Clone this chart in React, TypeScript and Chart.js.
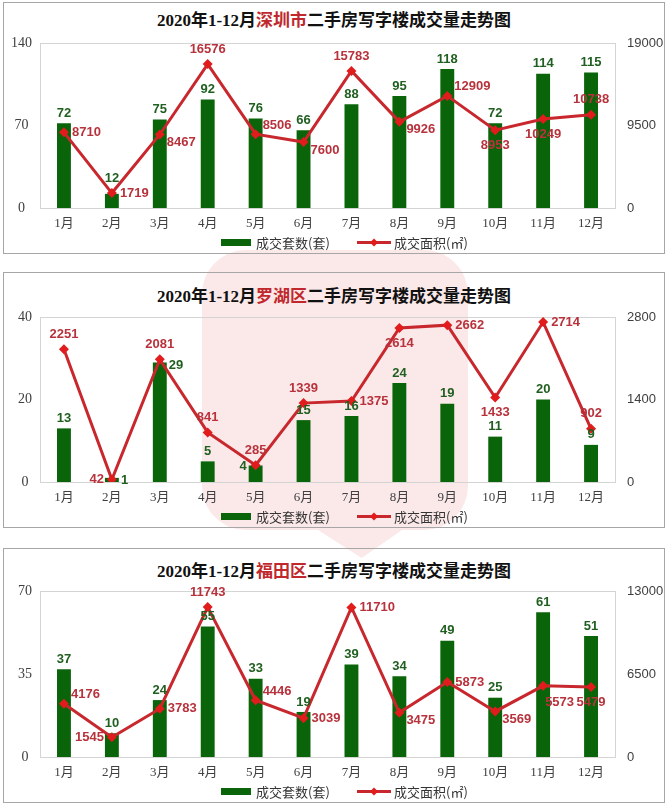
import React, { useEffect, useRef } from 'react';
import { Chart, registerables } from 'chart.js';

Chart.register(...registerables);

// ---------- data ----------
const MONTHS = ['1月', '2月', '3月', '4月', '5月', '6月', '7月', '8月', '9月', '10月', '11月', '12月'];
const SERIES_UNITS = '成交套数(套)';
const SERIES_AREA = '成交面积(㎡)';

const SZ_UNITS = [72, 12, 75, 92, 76, 66, 88, 95, 118, 72, 114, 115];
const SZ_AREA = [8710, 1719, 8467, 16576, 8506, 7600, 15783, 9926, 12909, 8953, 10249, 10738];
const SZ_UNIT_TICKS = [0, 70, 140];
const SZ_AREA_TICKS = [0, 9500, 19000];

const LH_UNITS = [13, 1, 29, 5, 4, 15, 16, 24, 19, 11, 20, 9];
const LH_AREA = [2251, 42, 2081, 841, 285, 1339, 1375, 2614, 2662, 1433, 2714, 902];
const LH_UNIT_TICKS = [0, 20, 40];
const LH_AREA_TICKS = [0, 1400, 2800];

const FT_UNITS = [37, 10, 24, 55, 33, 19, 39, 34, 49, 25, 61, 51];
const FT_AREA = [4176, 1545, 3783, 11743, 4446, 3039, 11710, 3475, 5873, 3569, 5573, 5479];
const FT_UNIT_TICKS = [0, 35, 70];
const FT_AREA_TICKS = [0, 6500, 13000];

// ---------- label placement (style) ----------
const SZ_UNIT_POS = ['t', 'tt', 't', 't', 't', 't', 't', 't', 't', 't', 't', 't'];
const SZ_AREA_POS = ['r', 'r', 'rd', 't', 'ru', 'rd', 't', 'rd', 'ru', 'b', 'b', 't'];
const LH_UNIT_POS = ['t', 'r', 'r', 't', 'l', 't', 't', 't', 't', 't', 't', 't'];
const LH_AREA_POS = ['t', 'l', 't', 't', 't', 't', 'r', 'b', 'r', 'b', 'r', 't'];
const FT_UNIT_POS = ['t', 't', 't', 't', 't', 't', 't', 't', 't', 't', 't', 't'];
const FT_AREA_POS = ['ru', 'l', 'r', 't', 'ru', 'r', 'r', 'rd', 'r', 'rd', 'rb', 'b'];

// ---------- styles ----------
const BAR_COLOR = '#0a640a';
const BAR_LABEL = '#1f5f1f';
const LINE_COLOR = '#c8282d';
const POINT_COLOR = '#e01c1c';
const LINE_LABEL = '#b8323c';
const TITLE_RED = '#c0282d';
const LABEL_FONT = 'bold 13px "Liberation Sans", Arial, sans-serif';
const LEGEND_FONT = '13px "Noto Sans CJK SC", sans-serif';

const plotFrame = {
  id: 'plotFrame',
  beforeDatasetsDraw(chart: any) {
    const { ctx, chartArea } = chart;
    ctx.save();
    ctx.strokeStyle = '#d4d4d4';
    ctx.lineWidth = 1;
    ctx.strokeRect(Math.round(chartArea.left) + 0.5, Math.round(chartArea.top) + 0.5,
      Math.round(chartArea.right - chartArea.left), Math.round(chartArea.bottom - chartArea.top));
    ctx.restore();
  },
};

const valueLabels = {
  id: 'valueLabels',
  afterDatasetsDraw(chart: any, _args: any, opts: any) {
    const { ctx } = chart;
    ctx.save();
    ctx.font = LABEL_FONT;
    ctx.textBaseline = 'middle';
    const barMeta = chart.getDatasetMeta(0);
    barMeta.data.forEach((el: any, i: number) => {
      const v = chart.data.datasets[0].data[i];
      const pos = opts.unitPos[i];
      let x = el.x, y = el.y - 10, align: CanvasTextAlign = 'center';
      if (pos === 'tt') { y = el.y - 15; }
      if (pos === 'r') { x = el.x + 9; y = el.y + 3; align = 'left'; }
      if (pos === 'l') { x = el.x - 9; y = el.y + 1; align = 'right'; }
      ctx.fillStyle = BAR_LABEL;
      ctx.textAlign = align;
      ctx.fillText(String(v), x, y);
    });
    const lineMeta = chart.getDatasetMeta(1);
    lineMeta.data.forEach((el: any, i: number) => {
      const v = chart.data.datasets[1].data[i];
      const pos = opts.areaPos[i];
      let x = el.x, y = el.y, align: CanvasTextAlign = 'center';
      switch (pos) {
        case 't': y = el.y - 15; break;
        case 'b': y = el.y + 15; break;
        case 'r': x = el.x + 8; align = 'left'; break;
        case 'ru': x = el.x + 7; y = el.y - 9; align = 'left'; break;
        case 'rd': x = el.x + 7; y = el.y + 8; align = 'left'; break;
        case 'rb': x = el.x + 2; y = el.y + 17; align = 'left'; break;
        case 'l': x = el.x - 8; align = 'right'; break;
      }
      ctx.fillStyle = LINE_LABEL;
      ctx.textAlign = align;
      ctx.fillText(String(v), x, y);
    });
    ctx.restore();
  },
};

const bottomLegend = {
  id: 'bottomLegend',
  afterDraw(chart: any) {
    const { ctx, chartArea } = chart;
    const y = Math.round(chartArea.bottom + 34);
    const ds = chart.data.datasets;
    ctx.save();
    ctx.font = LEGEND_FONT;
    ctx.textBaseline = 'middle';
    ctx.textAlign = 'left';
    let x = 217;
    ctx.fillStyle = BAR_COLOR;
    ctx.fillRect(x, y - 3, 30, 7);
    ctx.fillStyle = '#333333';
    ctx.fillText(ds[0].label, x + 35, y + 1);
    x = 353;
    ctx.strokeStyle = LINE_COLOR;
    ctx.lineWidth = 3;
    ctx.beginPath(); ctx.moveTo(x, y + 0.5); ctx.lineTo(x + 34, y + 0.5); ctx.stroke();
    ctx.fillStyle = POINT_COLOR;
    const cx = x + 17;
    ctx.beginPath(); ctx.moveTo(cx, y - 3.5); ctx.lineTo(cx + 4, y + 0.5); ctx.lineTo(cx, y + 4.5); ctx.lineTo(cx - 4, y + 0.5); ctx.closePath(); ctx.fill();
    ctx.fillStyle = '#333333';
    ctx.fillText(ds[1].label, x + 37, y + 1);
    ctx.restore();
  },
};

type PanelProps = {
  top: number;
  height: number;
  titleOffset: number;
  plotOffset: number;
  plotHeight: number;
  region: string;
  units: number[];
  area: number[];
  unitTicks: number[];
  areaTicks: number[];
  unitPos: string[];
  areaPos: string[];
};

const CANVAS_W = 660;
const X_AXIS_H = 28;
const BOTTOM_PAD = 18;

function Panel(p: PanelProps) {
  const ref = useRef<HTMLCanvasElement>(null);
  const canvasH = p.plotOffset + p.plotHeight + X_AXIS_H + BOTTOM_PAD;

  useEffect(() => {
    const chart = new Chart(ref.current!, {
      type: 'bar',
      data: {
        labels: MONTHS,
        datasets: [
          {
            type: 'bar',
            label: SERIES_UNITS,
            data: p.units,
            yAxisID: 'yL',
            backgroundColor: BAR_COLOR,
            barPercentage: 0.29,
            categoryPercentage: 1,
            order: 1,
          } as any,
          {
            type: 'line',
            label: SERIES_AREA,
            data: p.area,
            yAxisID: 'yR',
            borderColor: LINE_COLOR,
            borderWidth: 3,
            pointStyle: 'rectRot',
            pointRadius: 5,
            pointBackgroundColor: POINT_COLOR,
            pointBorderColor: POINT_COLOR,
            pointBorderWidth: 0,
            tension: 0,
            order: 0,
          } as any,
        ],
      },
      options: {
        responsive: false,
        animation: false,
        devicePixelRatio: 1,
        layout: { padding: { top: p.plotOffset, left: 0, right: 0, bottom: BOTTOM_PAD } },
        scales: {
          x: {
            grid: { display: false, drawTicks: false },
            border: { display: false },
            ticks: {
              padding: 8,
              color: '#404040',
              font: { family: '"Liberation Serif", "Noto Sans CJK SC", serif', size: 13 },
              maxRotation: 0,
              autoSkip: false,
            },
            afterFit(scale: any) { scale.height = X_AXIS_H; },
          },
          yL: {
            type: 'linear',
            position: 'left',
            min: p.unitTicks[0],
            max: p.unitTicks[p.unitTicks.length - 1],
            afterBuildTicks(scale: any) { scale.ticks = p.unitTicks.map((v) => ({ value: v })); },
            grid: { display: false, drawTicks: false },
            border: { display: false },
            ticks: {
              padding: 8,
              crossAlign: 'center',
              color: '#404040',
              font: { family: '"Liberation Serif", serif', size: 14 },
              callback: (v: any) => String(v),
            },
            afterFit(scale: any) { scale.width = 36; },
          },
          yR: {
            type: 'linear',
            position: 'right',
            min: p.areaTicks[0],
            max: p.areaTicks[p.areaTicks.length - 1],
            afterBuildTicks(scale: any) { scale.ticks = p.areaTicks.map((v) => ({ value: v })); },
            grid: { display: false, drawTicks: false },
            border: { display: false },
            ticks: {
              padding: 12,
              color: '#404040',
              font: { family: '"Liberation Sans", Arial, sans-serif', size: 13 },
              callback: (v: any) => String(v),
            },
            afterFit(scale: any) { scale.width = 49; },
          },
        },
        plugins: {
          legend: { display: false },
          tooltip: { enabled: false },
          valueLabels: { unitPos: p.unitPos, areaPos: p.areaPos },
        } as any,
      },
      plugins: [plotFrame, valueLabels, bottomLegend],
    });
    return () => chart.destroy();
  }, []);

  return (
    <div
      style={{
        position: 'absolute',
        left: 3,
        top: p.top,
        width: 660,
        height: p.height,
        border: '1px solid #a6a6a6',
        boxSizing: 'content-box',
      }}
    >
      <div
        style={{
          position: 'absolute',
          left: 0,
          width: '100%',
          top: p.titleOffset - 11,
          textAlign: 'center',
          font: 'bold 17px "Liberation Serif", "Noto Sans CJK SC", serif',
          color: '#111111',
          lineHeight: '22px',
          whiteSpace: 'nowrap',
        }}
      >
        2020年1-12月<span style={{ color: TITLE_RED }}>{p.region}</span>二手房写字楼成交量走势图
      </div>
      <canvas
        ref={ref}
        width={CANVAS_W}
        height={canvasH}
        style={{ position: 'absolute', left: 0, top: 0, width: CANVAS_W, height: canvasH }}
      />
    </div>
  );
}

export default function App() {
  return (
    <div
      style={{
        position: 'fixed',
        left: 0,
        top: 0,
        width: 668,
        height: 804,
        overflow: 'hidden',
        background: '#ffffff',
      }}
    >
      <div style={{ position: 'absolute', left: 202, top: 250, width: 266, height: 280, borderRadius: 44, background: 'rgba(226, 70, 70, 0.12)' }} />
      <div style={{ position: 'absolute', left: 318, top: 530, width: 84, height: 28, background: 'rgba(226, 70, 70, 0.12)', clipPath: 'polygon(0 0, 100% 0, 52% 100%)' }} />
      <Panel top={2} height={250} titleOffset={18} plotOffset={40} plotHeight={165} region="深圳市"
        units={SZ_UNITS} area={SZ_AREA} unitTicks={SZ_UNIT_TICKS} areaTicks={SZ_AREA_TICKS}
        unitPos={SZ_UNIT_POS} areaPos={SZ_AREA_POS} />
      <Panel top={272} height={254} titleOffset={24} plotOffset={44} plotHeight={165} region="罗湖区"
        units={LH_UNITS} area={LH_AREA} unitTicks={LH_UNIT_TICKS} areaTicks={LH_AREA_TICKS}
        unitPos={LH_UNIT_POS} areaPos={LH_AREA_POS} />
      <Panel top={548} height={253} titleOffset={23} plotOffset={42} plotHeight={166} region="福田区"
        units={FT_UNITS} area={FT_AREA} unitTicks={FT_UNIT_TICKS} areaTicks={FT_AREA_TICKS}
        unitPos={FT_UNIT_POS} areaPos={FT_AREA_POS} />
    </div>
  );
}
